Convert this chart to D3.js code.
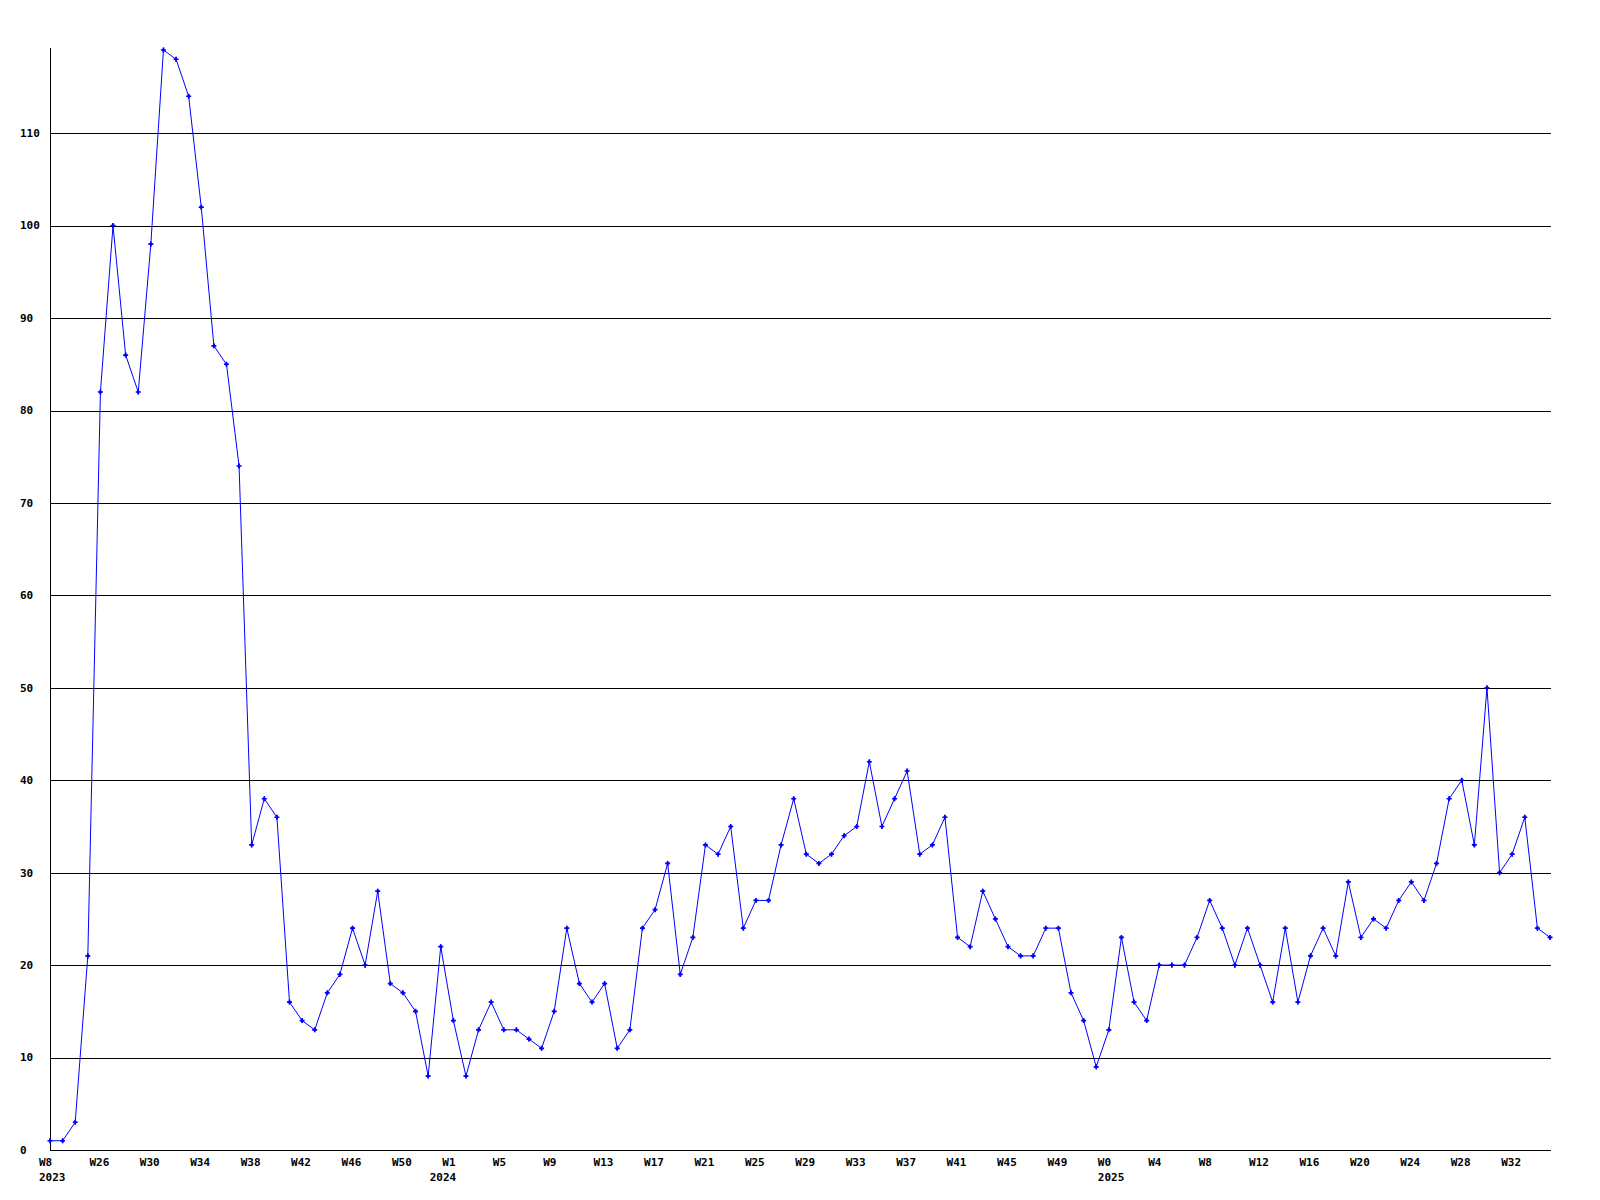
<!DOCTYPE html>
<html><head><meta charset="utf-8">
<script src="https://cdn.jsdelivr.net/npm/d3@7"></script>
<style>body{margin:0;background:#fff}</style>
</head><body>
<script>
const weekLabels = ["W8","W26","W30","W34","W38","W42","W46","W50","W1","W5","W9","W13","W17","W21","W25","W29","W33","W37","W41","W45","W49","W0","W4","W8","W12","W16","W20","W24","W28","W32"];
const yearIndex = [0,31,84];
const yearLabels = ["2023","2024","2025"];
const values = [1,1,3,21,82,100,86,82,98,119,118,114,102,87,85,74,33,38,36,16,
14,13,17,19,24,20,28,18,17,15,8,22,14,8,13,16,13,13,12,11,
15,24,18,16,18,11,13,24,26,31,19,23,33,32,35,24,27,27,33,38,
32,31,32,34,35,42,35,38,41,32,33,36,23,22,28,25,22,21,21,24,
24,17,14,9,13,23,16,14,20,20,20,23,27,24,20,24,20,16,24,16,
21,24,21,29,23,25,24,27,29,27,31,38,40,33,50,30,32,36,24,23];
const yTicks = [0,10,20,30,40,50,60,70,80,90,100,110];

const W=1600,H=1200;
const svg=d3.select("body").append("svg").attr("width",W).attr("height",H);
const x=d3.scaleLinear().domain([0,values.length-1]).range([50,1550]);
const y=d3.scaleLinear().domain([0,d3.max(values)]).range([1150,50]);
const font='"DejaVu Sans Mono", monospace';

// gridlines
svg.append("g").selectAll("line").data(yTicks.filter(t=>t>0)).join("line")
  .attr("x1",50).attr("x2",1551).attr("y1",d=>Math.round(y(d))+0.5).attr("y2",d=>Math.round(y(d))+0.5)
  .attr("stroke","#000").attr("stroke-width",1).attr("shape-rendering","crispEdges");
// axes lines
svg.append("line").attr("x1",50.5).attr("x2",50.5).attr("y1",48).attr("y2",1150).attr("stroke","#000").attr("shape-rendering","crispEdges");
svg.append("line").attr("x1",50).attr("x2",1551).attr("y1",1150.5).attr("y2",1150.5).attr("stroke","#000").attr("shape-rendering","crispEdges");

// y labels
svg.append("g").selectAll("text").data(yTicks).join("text")
  .attr("x",20).attr("y",d=>y(d)).attr("dy","0.35em").attr("text-anchor","start")
  .attr("font-family",font).attr("font-weight","bold").attr("font-size",11).text(d=>d);

// x labels
svg.append("g").selectAll("text").data(weekLabels).join("text")
  .attr("x",(d,i)=>x(i*4)-11).attr("y",1166)
  .attr("font-family",font).attr("font-weight","bold").attr("font-size",11).text(d=>d);
svg.append("g").selectAll("text").data(yearLabels).join("text")
  .attr("x",(d,i)=>x(yearIndex[i])-11).attr("y",1181)
  .attr("font-family",font).attr("font-weight","bold").attr("font-size",11).text(d=>d);

// line
const line=d3.line().x((d,i)=>x(i)).y(d=>y(d));
svg.append("path").datum(values).attr("d",line).attr("fill","none").attr("stroke","#0000ff").attr("stroke-width",1);

// markers
const sym=d3.symbol().type(d3.symbolCross).size(14);
svg.append("g").selectAll("path").data(values).join("path")
  .attr("transform",(d,i)=>`translate(${x(i)},${y(d)})`).attr("d",sym).attr("fill","#0000ff");
svg.append("g").selectAll("path").data(values).join("path")
  .attr("transform",(d,i)=>`translate(${x(i)},${y(d)})`).attr("d",d3.symbol().type(d3.symbolDiamond).size(8)).attr("fill","#0000ff");
</script>
</body></html>
